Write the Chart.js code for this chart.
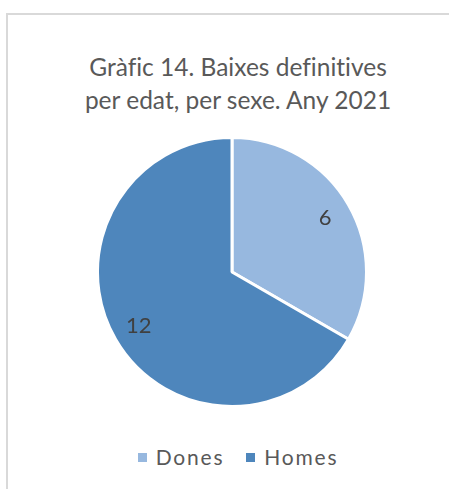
<!DOCTYPE html>
<html>
<head>
<meta charset="utf-8">
<script src="https://cdn.jsdelivr.net/npm/chart.js@4"></script>
<style>
  html, body { margin: 0; padding: 0; background: #fff; overflow: hidden; }
  body { width: 449px; height: 489px; position: relative; font-family: Lato, "Open Sans", sans-serif; font-variant-ligatures: none; }
  #frame { position: absolute; left: 6px; top: 13px; right: 0; bottom: 0; border-left: 2px solid #d9d9d9; border-top: 2px solid #d9d9d9; }
  #title { position: absolute; left: 0; width: 449px; padding-left: 27px; box-sizing: border-box; top: 50px; text-align: center; color: #595959; font-size: 24.5px; line-height: 33px; }
  #pieBox { position: absolute; left: 96px; top: 136px; width: 272px; height: 272px; }
  #legend { position: absolute; left: 0; width: 449px; padding-left: 27px; box-sizing: border-box; top: 444px; text-align: center; color: #595959; font-size: 21px; letter-spacing: 1.8px; }
  #legend span.item { margin: 0 11px; }
  #legend i { display: inline-block; width: 9px; height: 9px; margin-right: 9px; vertical-align: 3px; }
</style>
</head>
<body>
<div id="frame"></div>
<div id="title">Gràfic 14. Baixes definitives<br>per edat, per sexe. Any 2021</div>
<div id="pieBox"><canvas id="pie"></canvas></div>
<div id="legend"></div>
<script>
// data
const labels = ['Dones', 'Homes'];
const values = [6, 12];
const sliceColors = ['#97b8df', '#4e86bc'];

// value labels inside each slice, at ~80% of radius like Excel does
const sliceLabels = {
    id: 'sliceLabels',
    afterDatasetsDraw(chart) {
        const ctx = chart.ctx;
        const meta = chart.getDatasetMeta(0);
        ctx.save();
        ctx.font = '22px Lato, "Open Sans", sans-serif';
        ctx.fillStyle = '#404040';
        ctx.textAlign = 'center';
        ctx.textBaseline = 'middle';
        meta.data.forEach((arc, i) => {
            const p = arc.getProps(['x', 'y', 'startAngle', 'endAngle', 'outerRadius']);
            const mid = (p.startAngle + p.endAngle) / 2;
            const r = p.outerRadius * 0.8;
            ctx.fillText(String(values[i]), p.x + Math.cos(mid) * r, p.y + Math.sin(mid) * r);
        });
        ctx.restore();
    }
};

new Chart(document.getElementById('pie'), {
    type: 'pie',
    data: {
        labels: labels,
        datasets: [{
            data: values,
            backgroundColor: sliceColors,
            borderColor: '#ffffff',
            borderWidth: 3,
            hoverOffset: 0
        }]
    },
    options: {
        responsive: true,
        maintainAspectRatio: false,
        animation: false,
        events: [],
        plugins: { legend: { display: false }, tooltip: { enabled: false } }
    },
    plugins: [sliceLabels]
});

// legend built from the same arrays
const legend = document.getElementById('legend');
labels.forEach((l, i) => {
    const s = document.createElement('span');
    s.className = 'item';
    s.innerHTML = `<i style="background:${sliceColors[i]}"></i>${l}`;
    legend.appendChild(s);
});
</script>
</body>
</html>
